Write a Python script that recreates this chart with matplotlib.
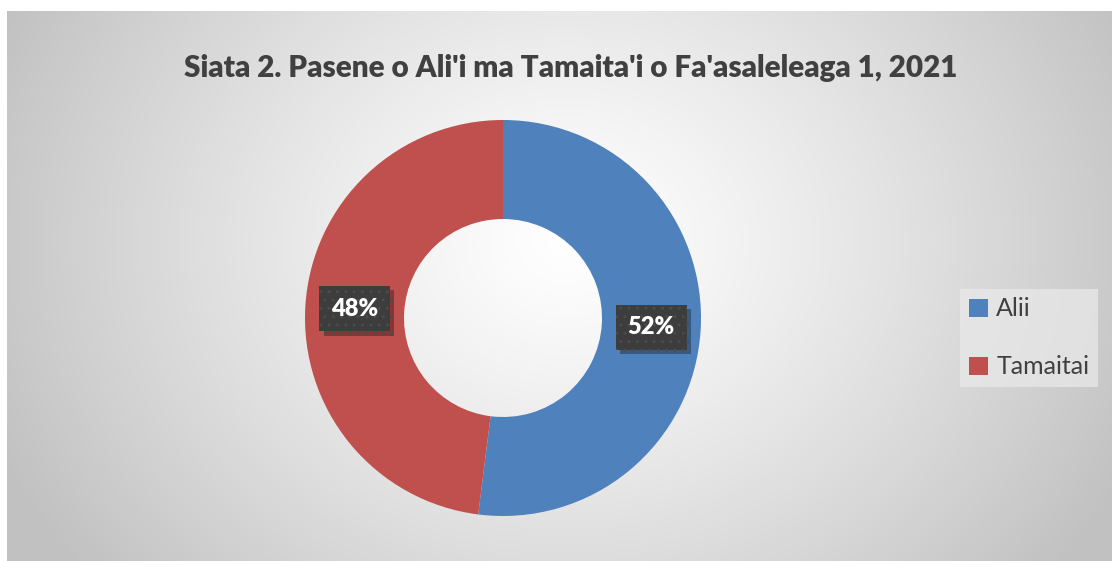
import numpy as np
import matplotlib.pyplot as plt
import matplotlib.patheffects as pe

plt.rcParams['font.family'] = ['Lato', 'DejaVu Sans']

labels = ['Alii', 'Tamaitai']
values = [52, 48]
colors = ['#4F81BD', '#C0504D']
title = "Siata 2. Pasene o Ali'i ma Tamaita'i o Fa'asaleleaga 1, 2021"

W, H = 1112, 561
fig = plt.figure(figsize=(W / 100, H / 100), dpi=100)
fig.patch.set_facecolor('white')

# radial gradient background
bg = fig.add_axes([7 / W, 0, (W - 7) / W, (H - 11) / H])
yy, xx = np.mgrid[0:550, 0:1105]
cx, cy = 560, 230
d = np.sqrt(((xx - cx) / 620.0) ** 2 + ((yy - cy) / 520.0) ** 2)
d = np.clip(d, 0, 1)
shade = 1.0 - 0.24 * d ** 1.2
img = np.dstack([shade, shade, shade])
bg.imshow(img, aspect='auto', interpolation='bilinear')
bg.set_axis_off()

fig.text(571 / W, 1 - 68 / H, title, ha='center', va='center',
         fontsize=21.3, fontweight='heavy', color='#404040')

# donut
r = 198
ax = fig.add_axes([(503 - r) / W, (H - 318 - r) / H, 2 * r / W, 2 * r / H])
wedges, _ = ax.pie(values, colors=colors, startangle=90, counterclock=False,
                   radius=1, wedgeprops=dict(width=0.5, edgecolor='none'))
ax.set_xlim(-1, 1)
ax.set_ylim(-1, 1)
ax.set_aspect('equal')
ax.set_axis_off()

for w, v in zip(wedges, values):
    ang = np.deg2rad((w.theta1 + w.theta2) / 2)
    x, y = 0.75 * np.cos(ang), 0.75 * np.sin(ang)
    t = ax.text(x, y, f'{v}%', ha='center', va='center', fontsize=17,
                fontweight='heavy', color='white', zorder=5,
                bbox=dict(boxstyle='square,pad=0.5', facecolor='#3d3d3d',
                          edgecolor='#4b4b4b', hatch='..', linewidth=0))
    t.get_bbox_patch().set_path_effects([
        pe.SimplePatchShadow(offset=(3, -3), shadow_rgbFace='black', alpha=0.3),
        pe.Normal()])

leg = fig.legend(handles=wedges, labels=labels, loc='center',
                 bbox_to_anchor=(1029 / W, 1 - 338 / H), frameon=True,
                 fontsize=18, labelcolor='#404040', handlelength=0.75,
                 handleheight=0.75, handletextpad=0.35, labelspacing=1.4,
                 fancybox=False, borderpad=0.35, borderaxespad=0)
leg.get_frame().set_facecolor('#eaeaea')
leg.get_frame().set_edgecolor('none')
leg.get_frame().set_alpha(0.7)

fig.savefig('out.png', dpi=100, facecolor='white')
